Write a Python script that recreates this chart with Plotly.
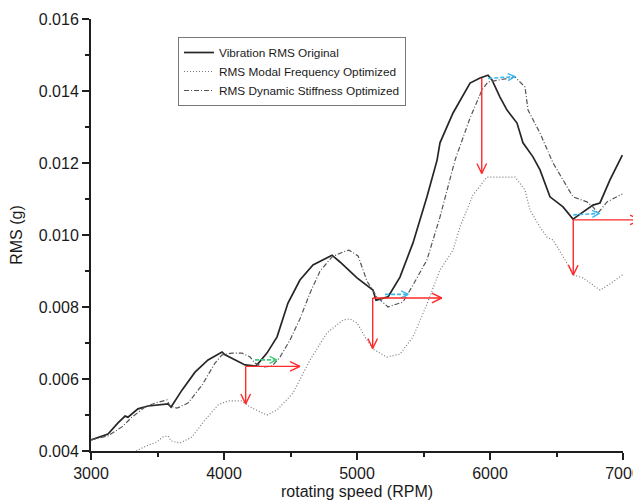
import plotly.graph_objects as go
import math

# ---------------- data ----------------
orig_rpm = [3000, 3128, 3203, 3256, 3278, 3353, 3429, 3579, 3602, 3684, 3782, 3880, 3985, 4008,
            4158, 4241, 4323, 4399, 4481, 4571, 4669, 4812, 4872, 5000, 5120, 5143, 5233, 5323,
            5421, 5526, 5602, 5624, 5722, 5850, 5925, 5985, 6015, 6075, 6128, 6203, 6248, 6323,
            6376, 6451, 6549, 6624, 6774, 6827, 6902, 6995]
orig_rms = [0.00431, 0.00447, 0.00478, 0.00497, 0.00494, 0.00517, 0.00525, 0.00531, 0.00522, 0.00569,
            0.00619, 0.00653, 0.00675, 0.00667, 0.00639, 0.00636, 0.00672, 0.00717, 0.00811, 0.00875,
            0.00917, 0.00944, 0.00925, 0.00881, 0.00847, 0.00819, 0.00828, 0.00883, 0.00978, 0.01106,
            0.01208, 0.01256, 0.01339, 0.01422, 0.01436, 0.01444, 0.01431, 0.01383, 0.01347, 0.01311,
            0.01256, 0.01217, 0.01181, 0.01106, 0.01078, 0.01044, 0.01083, 0.01089, 0.01153, 0.01222]

modal_rpm = [3340, 3420, 3496, 3541, 3579, 3602, 3669, 3759, 3857, 3955, 4030, 4135, 4196, 4323,
             4399, 4519, 4647, 4774, 4895, 4947, 5000, 5060, 5120, 5226, 5323, 5421, 5526, 5624,
             5722, 5774, 5872, 5977, 6075, 6188, 6263, 6301, 6376, 6429, 6474, 6579, 6624, 6699,
             6827, 6902, 6995]
modal_rms = [0.00400, 0.00415, 0.00425, 0.00439, 0.00442, 0.00428, 0.00422, 0.00439, 0.00486, 0.00528,
             0.00539, 0.00539, 0.00522, 0.00500, 0.00514, 0.00561, 0.00653, 0.00728, 0.00764, 0.00767,
             0.00756, 0.00717, 0.00683, 0.00661, 0.00669, 0.00717, 0.00808, 0.00903, 0.00958, 0.01022,
             0.01111, 0.01161, 0.01161, 0.01161, 0.01125, 0.01069, 0.01022, 0.00994, 0.00986, 0.00922,
             0.00889, 0.00881, 0.00847, 0.00864, 0.00889]

stiff_rpm = [3000, 3128, 3233, 3308, 3406, 3481, 3571, 3594, 3647, 3729, 3835, 3932, 3985, 4060,
             4135, 4196, 4233, 4293, 4361, 4421, 4496, 4571, 4647, 4722, 4812, 4895, 4940, 5008,
             5075, 5150, 5233, 5346, 5421, 5526, 5624, 5737, 5850, 5940, 5985, 6075, 6188, 6263,
             6286, 6376, 6474, 6624, 6729, 6774, 6812, 6880, 6995]
stiff_rms = [0.00431, 0.00442, 0.00467, 0.00494, 0.00522, 0.00533, 0.00542, 0.00525, 0.00519, 0.00533,
             0.00583, 0.00644, 0.00667, 0.00672, 0.00672, 0.00661, 0.00644, 0.00633, 0.00636, 0.00661,
             0.00708, 0.00767, 0.00839, 0.00900, 0.00939, 0.00953, 0.00958, 0.00942, 0.00872, 0.00828,
             0.00800, 0.00814, 0.00861, 0.00931, 0.01050, 0.01208, 0.01325, 0.01403, 0.01425, 0.01431,
             0.01439, 0.01411, 0.01347, 0.01283, 0.01200, 0.01106, 0.01092, 0.01078, 0.01061, 0.01092,
             0.01114]

# red arrows: (tail_rpm, tail_rms, tip_rpm, tip_rms)
red_arrows = [
    (4163, 0.00635, 4163, 0.00531),
    (4163, 0.00635, 4571, 0.00635),
    (5118, 0.00825, 5118, 0.00685),
    (5118, 0.00825, 5637, 0.00825),
    (5938, 0.01436, 5938, 0.01171),
    (6626, 0.01042, 6626, 0.00889),
    (6626, 0.01042, 7128, 0.01042),
]
# short dashed arrows: (tail_rpm, tail_rms, tip_rpm, tip_rms, colour)
small_arrows = [
    (4233, 0.00653, 4396, 0.00653, "#3fcf7a"),
    (5211, 0.00835, 5386, 0.00835, "#3ab8ee"),
    (5987, 0.01435, 6188, 0.01440, "#3ab8ee"),
    (6626, 0.01056, 6822, 0.01060, "#3ab8ee"),
]

legend_names = ["Vibration RMS Original", "RMS Modal Frequency Optimized",
                "RMS Dynamic Stiffness Optimized"]

# ---------------- layout geometry (page has an 8px body margin) ----------------
W, H = 633, 495
ML, MR, MT, MB = 83, 18, 11, 52
PW, PH = W - ML - MR, H - MT - MB
X0, X1 = 3000, 7000
Y0, Y1 = 0.004, 0.016


def to_px(x, y):
    return ((x - X0) / (X1 - X0) * PW, (Y1 - y) / (Y1 - Y0) * PH)


def to_paper(x, y):
    return ((x - X0) / (X1 - X0), (y - Y0) / (Y1 - Y0))


fig = go.Figure()
fig.add_trace(go.Scatter(x=orig_rpm, y=orig_rms, mode="lines", name=legend_names[0],
                         line=dict(color="#262626", width=1.7)))
fig.add_trace(go.Scatter(x=modal_rpm, y=modal_rms, mode="lines", name=legend_names[1],
                         line=dict(color="#7a7a7a", width=1.2, dash="1px,2px")))
fig.add_trace(go.Scatter(x=stiff_rpm, y=stiff_rms, mode="lines", name=legend_names[2],
                         line=dict(color="#555555", width=1.2, dash="5px,2px,1px,2px")))

annotations = []
RED = "#ff2a2a"
HEAD_L, HEAD_A = 11, math.radians(26)
for (tx, ty, hx, hy) in red_arrows:
    tpx, tpy = to_px(tx, ty)
    hpx, hpy = to_px(hx, hy)
    px_, py_ = to_paper(hx, hy)
    annotations.append(dict(x=px_, y=py_, xref="paper", yref="paper", ax=tpx - hpx, ay=tpy - hpy,
                            text="", showarrow=True, arrowhead=0, arrowwidth=1.4, arrowcolor=RED,
                            standoff=0, startstandoff=0, borderpad=0, borderwidth=0))
    d = math.hypot(hpx - tpx, hpy - tpy)
    ux, uy = (hpx - tpx) / d, (hpy - tpy) / d
    for s in (1, -1):
        c, sn = math.cos(s * HEAD_A), math.sin(s * HEAD_A)
        rx, ry = ux * c - uy * sn, ux * sn + uy * c
        annotations.append(dict(x=px_, y=py_, xref="paper", yref="paper",
                                ax=-rx * HEAD_L, ay=-ry * HEAD_L,
                                text="", showarrow=True, arrowhead=0, arrowwidth=1.4, arrowcolor=RED,
                                standoff=0, startstandoff=0, borderpad=0, borderwidth=0))

SH_L = 8
for (tx, ty, hx, hy, col) in small_arrows:
    fig.add_trace(go.Scatter(x=[tx, hx], y=[ty, hy], mode="lines", showlegend=False, hoverinfo="skip",
                             line=dict(color=col, width=1.6, dash="4px,2px")))
    tpx, tpy = to_px(tx, ty)
    hpx, hpy = to_px(hx, hy)
    d = math.hypot(hpx - tpx, hpy - tpy)
    ux, uy = (hpx - tpx) / d, (hpy - tpy) / d
    xs, ys = [], []
    for s in (1, -1):
        c, sn = math.cos(s * HEAD_A), math.sin(s * HEAD_A)
        rx, ry = ux * c - uy * sn, ux * sn + uy * c
        ex, ey = hpx - rx * SH_L, hpy - ry * SH_L
        xs += [X0 + ex / PW * (X1 - X0), hx, None]
        ys += [Y1 - ey / PH * (Y1 - Y0), hy, None]
    fig.add_trace(go.Scatter(x=xs, y=ys, mode="lines", showlegend=False, hoverinfo="skip",
                             line=dict(color=col, width=1.4)))

axis_common = dict(showline=True, linecolor="#1e1e1e", linewidth=2, ticks="outside", ticklen=7,
                   tickwidth=2, tickcolor="#1e1e1e", showgrid=False, zeroline=False, mirror=False,
                   tickfont=dict(size=16, color="#1a1a1a"))

fig.update_layout(
    width=W, height=H,
    margin=dict(l=ML, r=MR, t=MT, b=MB, autoexpand=False),
    paper_bgcolor="white", plot_bgcolor="white",
    font=dict(family="Liberation Sans, Arial, sans-serif", color="#1a1a1a"),
    xaxis=dict(range=[X0, X1], dtick=1000, tick0=3000,
               minor=dict(ticks="outside", ticklen=4, tickwidth=2, dtick=500, tickcolor="#1e1e1e"),
               title=dict(text="rotating speed (RPM)", font=dict(size=16), standoff=5),
               **axis_common),
    yaxis=dict(range=[Y0, Y1], dtick=0.002, tick0=0.004, tickformat=".3f",
               minor=dict(ticks="outside", ticklen=4, tickwidth=2, dtick=0.001, tickcolor="#1e1e1e"),
               title=dict(text="RMS (g)", font=dict(size=16), standoff=13),
               **axis_common),
    legend=dict(x=(178 - 8 - ML) / PW, y=1 - (37 - 8 - MT) / PH, xanchor="left", yanchor="top",
                bgcolor="white", bordercolor="#777777", borderwidth=1,
                font=dict(size=11.8, color="#1a1a1a"), tracegroupgap=0),
    annotations=annotations,
    showlegend=True,
)

fig.write_html("out.html")
